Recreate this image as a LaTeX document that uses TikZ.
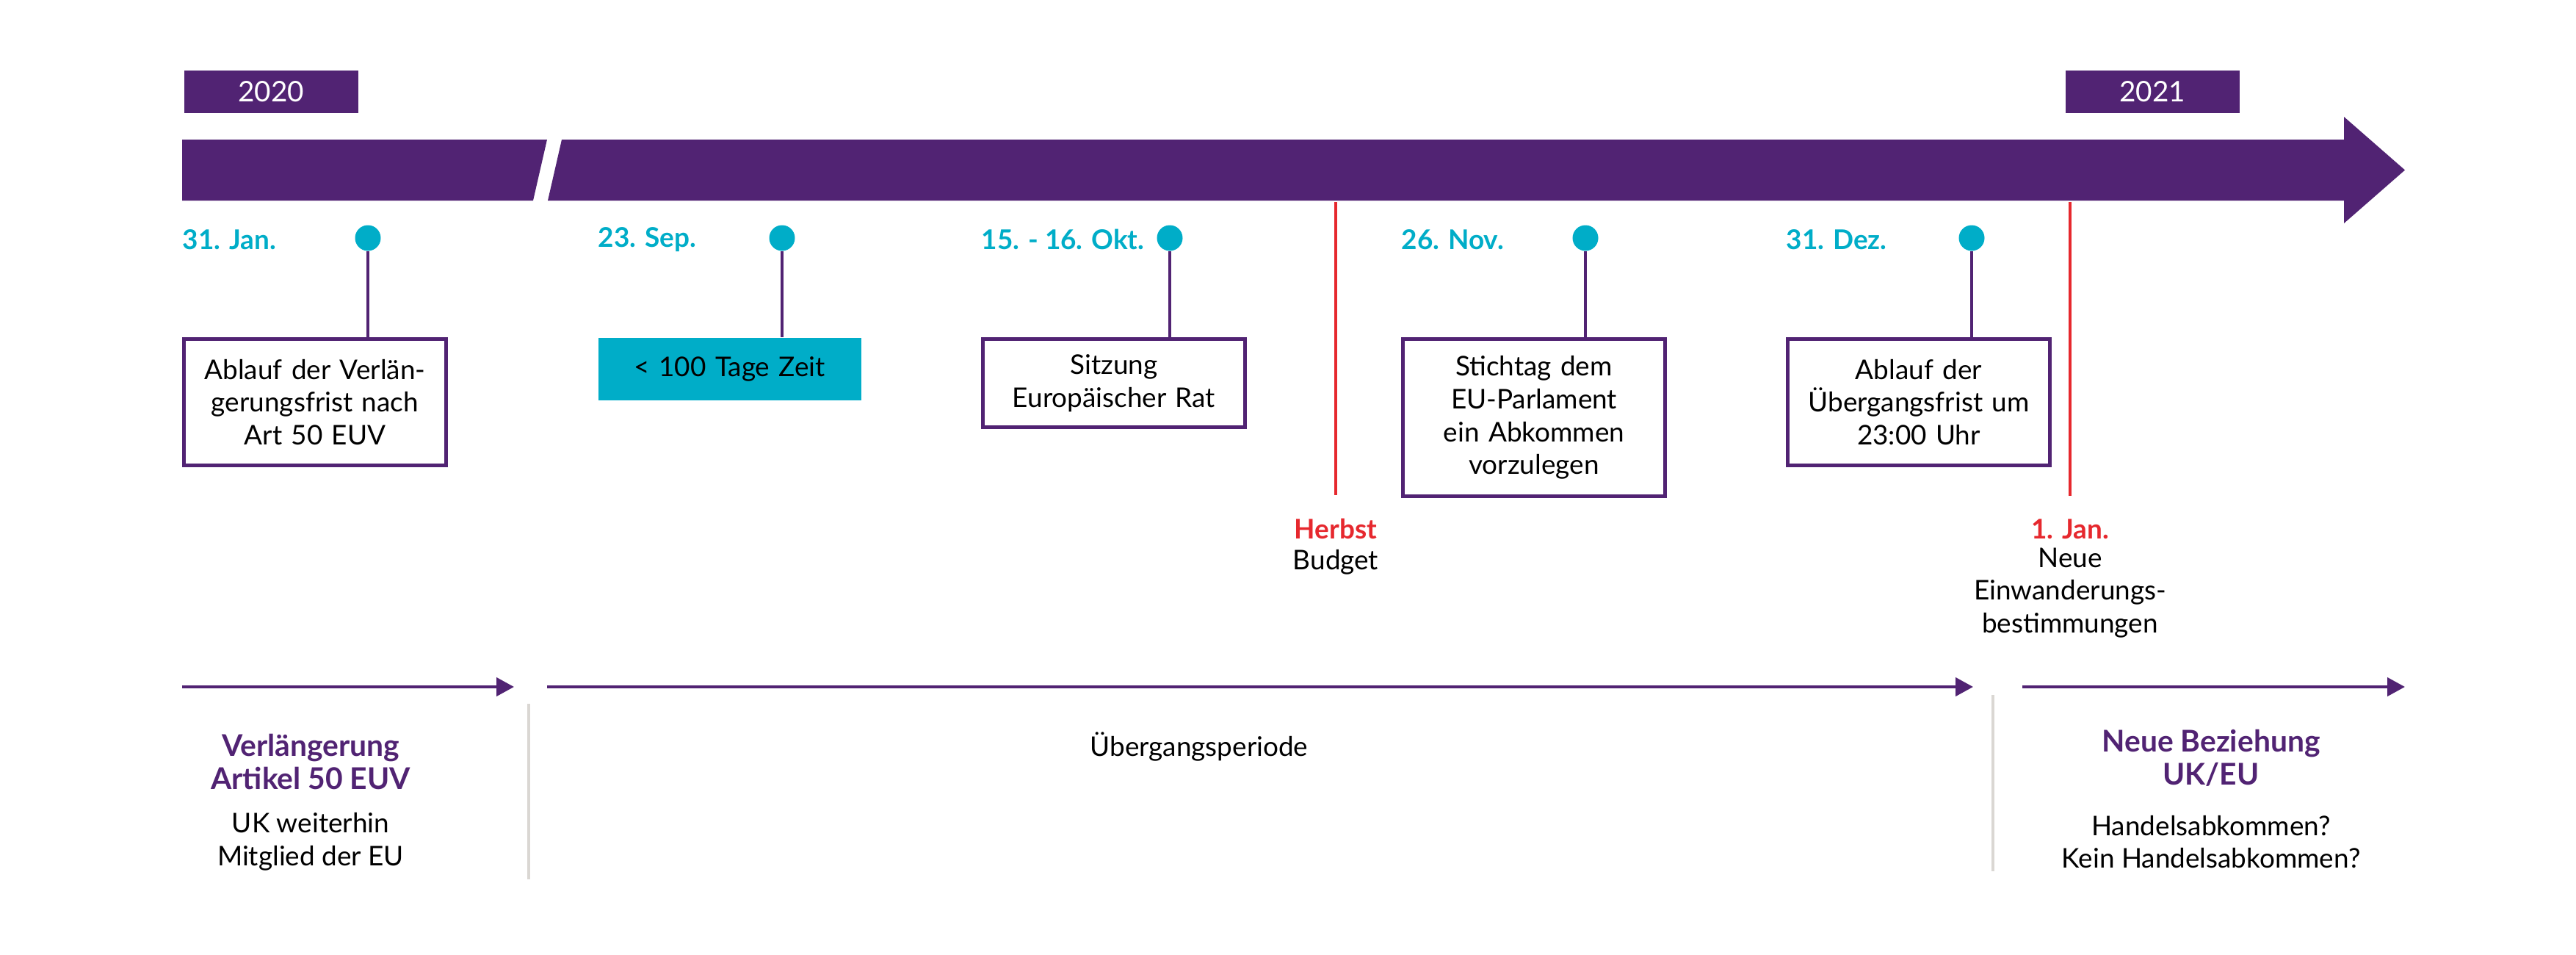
\documentclass[tikz,border=0pt]{standalone}
\usepackage{fontspec}
\setmainfont{Lato}
\usetikzlibrary{arrows.meta}
\definecolor{brexitpurple}{HTML}{512373}
\definecolor{eventcyan}{HTML}{00ADC8}
\definecolor{budgetred}{HTML}{E6282E}
\definecolor{splitgray}{HTML}{DAD7D3}

\begin{document}
\begin{tikzpicture}[every node/.style={font=\fontsize{10.5}{12.7}\selectfont, inner sep=0pt},
	yearbox/.style={fill=brexitpurple, text=white, minimum width=2.37cm, minimum height=0.58cm, font=\fontsize{11}{12.7}\selectfont},
	datelabel/.style={text=eventcyan, font=\fontsize{10.5}{12.7}\selectfont\bfseries, anchor=west},
	dot/.style={circle, fill=eventcyan, minimum size=0.35cm},
	eventbox/.style={draw=brexitpurple, line width=1.4pt, fill=white, anchor=north west, text width=3.4cm, inner xsep=0.085cm, align=center},
	tagbox/.style={fill=eventcyan, anchor=north west, text width=3.4cm, inner xsep=0.09cm, align=center},
	stem/.style={brexitpurple, line width=1.3pt},
	redline/.style={budgetred, line width=1pt},
	redlabel/.style={text=budgetred, font=\fontsize{10.5}{12.7}\selectfont\bfseries},
	phase/.style={brexitpurple, line width=1.2pt, -{Triangle[length=0.24cm, width=0.25cm]}},
	splitline/.style={splitgray, line width=1pt},
	headline/.style={text=brexitpurple, font=\fontsize{11.6}{12.9}\selectfont\bfseries, align=center},
	bodytext/.style={align=center}]
	\useasboundingbox (0,0) rectangle (35.08,-12.99);
	% years and the time bar
	\node[yearbox] (y2020) at (3.69,-1.25) {2020};
	\node[yearbox] (y2021) at (29.31,-1.25) {2021};
	\fill[brexitpurple] (2.48,-1.90) -- (7.45,-1.90) -- (7.26,-2.73) -- (2.48,-2.73) -- cycle;
	\fill[brexitpurple] (7.65,-1.90) -- (31.92,-1.90) -- (31.92,-1.59) -- (32.75,-2.315) -- (31.92,-3.04) -- (31.92,-2.73) -- (7.46,-2.73) -- cycle;
	% events
	\foreach \i/\dx/\cx/\dat/\kind/\h/\txt in {
		1/2.48/5.01/{31. Jan.}/eventbox/1.72/{Ablauf der Verlän-\\gerungsfrist nach\\Art 50 EUV},
		2/8.14/10.65/{23. Sep.}/tagbox/0.85/{< 100 Tage Zeit},
		3/13.36/15.93/{15. - 16. Okt.}/eventbox/1.20/{Sitzung\\Europäischer Rat},
		4/19.08/21.59/{26. Nov.}/eventbox/2.14/{Stichtag dem\\EU-Parlament\\ein Abkommen\\vorzulegen},
		5/24.32/26.85/{31. Dez.}/eventbox/1.72/{Ablauf der\\Übergangsfrist um\\23:00 Uhr}} {
		\node[datelabel] (d\i) at (\dx,-3.26) {\dat};
		\node[dot] (c\i) at (\cx,-3.24) {};
		\node[\kind, minimum height=\h cm] (b\i) at (\dx,-4.59) {\txt};
		\draw[stem] (c\i.south) -- (c\i |- b\i.north);
	}
	% red markers
	\coordinate (herbsttop) at (18.19,-2.75);
	\coordinate (jantop) at (28.19,-2.75);
	\node[redlabel] (herbst) at (18.19,-7.20) {Herbst};
	\node[bodytext] (budget) at (18.19,-7.65) {Budget};
	\node[redlabel] (jan) at (28.19,-7.20) {1. Jan.};
	\node[bodytext, anchor=north] (immig) at (28.19,-7.45) {Neue\\Einwanderungs-\\bestimmungen};
	\draw[redline] (herbsttop) -- ([yshift=0.31cm]herbst.north);
	\draw[redline] (jantop) -- ([yshift=0.31cm]jan.north);
	% phases
	\coordinate (p1a) at (2.48,-9.35);
	\coordinate (p1b) at (7.00,-9.35);
	\coordinate (p2a) at (7.45,-9.35);
	\coordinate (p2b) at (26.87,-9.35);
	\coordinate (p3a) at (27.54,-9.35);
	\coordinate (p3b) at (32.75,-9.35);
	\draw[phase] (p1a) -- (p1b);
	\draw[phase] (p2a) -- (p2b);
	\draw[phase] (p3a) -- (p3b);
	\draw[splitline] (7.20,-9.58) -- (7.20,-11.97);
	\draw[splitline] (27.14,-9.46) -- (27.14,-11.86);
	\node[headline] (ext) at (4.23,-10.37) {Verlängerung\\Artikel 50 EUV};
	\node[bodytext] (member) at (4.23,-11.46) {UK weiterhin\\Mitglied der EU};
	\node[bodytext] (transit) at (16.33,-10.16) {Übergangsperiode};
	\node[headline] (newrel) at (30.11,-10.32) {Neue Beziehung\\UK/EU};
	\node[bodytext] (trade) at (30.11,-11.46) {Handelsabkommen?\\Kein Handelsabkommen?};
\end{tikzpicture}
\end{document}
